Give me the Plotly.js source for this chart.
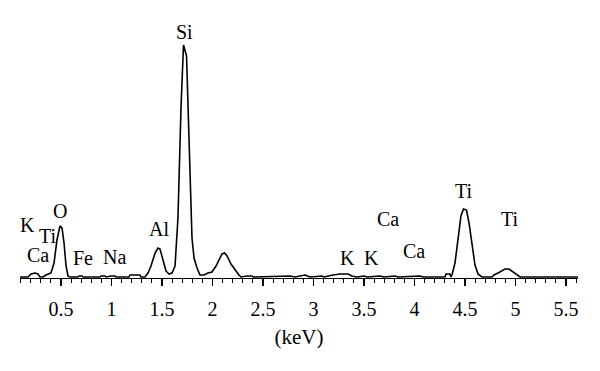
<!DOCTYPE html>
<html><head><meta charset="utf-8">
<script src="https://cdn.plot.ly/plotly-3.0.1.min.js"></script>
<style>html,body{margin:0;padding:0;background:#fff}#chart{width:600px;height:371px}</style>
</head><body><div id="chart"></div>
<script>
// Energy (keV) and counts (arbitrary units)
const energy = [0.094,0.173,0.203,0.243,0.272,0.292,0.322,0.351,0.401,0.431,0.460,0.490,0.510,0.530,0.550,0.569,0.589,
  0.668,0.678,0.708,0.718,0.886,0.896,0.936,0.946,0.995,1.035,1.045,1.173,1.183,1.282,1.292,
  1.332,1.361,1.391,1.431,1.460,1.480,1.510,1.540,1.569,1.599,1.629,1.658,1.688,1.713,1.743,1.767,1.797,1.817,1.847,1.876,
  1.916,1.955,1.995,2.035,2.064,2.094,2.119,2.144,2.183,2.223,2.262,2.282,
  2.342,2.391,2.401,2.767,2.817,2.916,2.965,3.084,3.104,3.193,3.262,3.342,3.381,3.431,3.500,3.530,3.658,3.698,3.807,3.837,4.055,4.085,
  4.302,4.312,4.351,4.361,4.371,4.401,4.430,4.460,4.485,4.515,4.540,4.569,4.599,4.629,4.668,
  4.767,4.787,4.827,4.866,4.896,4.936,4.966,5.005,5.045,5.619];
const counts = [1,1,4,5,4,1,1,3,5,15,38,52,50,35,12,2,1,
  1,2,2,1,1,2,2,1,2,2,1,1,3,3,1,
  1,5,12,25,30,29,18,7,4,5,12,60,170,233,222,130,40,20,10,3,
  3,5,6,12,18,24,25,22,14,8,3,1,
  2,2,1,2,1,3,1,2,1,3,4,4,2,1,2,1,2,1,2,1,2,1,
  1,4,4,1,3,15,40,62,69,68,55,33,13,4,1,
  1,3,5,7,9,9,7,4,1,1];

const labelText = ["Si","O","K","Ti","Ca","Fe","Na","Al","K","K","Ca","Ca","Ti","Ti"];
const labelKeV  = [1.718,0.490,0.173,0.371,0.272,0.718,1.025,1.470,3.332,3.579,3.738,3.995,4.490,4.946];
const labelCnt  = [246,67,53,42,23,20,21,49,20,20,59,27,87,59];

const tickVals = [0.5,1,1.5,2,2.5,3,3.5,4,4.5,5,5.5];
const tickText = ["0.5","1","1.5","2","2.5","3","3.5","4","4.5","5","5.5"];

const font = "Liberation Serif, Times New Roman, serif";
const annotations = labelText.map((t,i)=>({
  x: labelKeV[i], y: labelCnt[i], xref:'x', yref:'y', text:t, showarrow:false,
  font:{family:font,size:20,color:'#000'}
}));

Plotly.newPlot('chart',[{
  x: energy, y: counts, type:'scatter', mode:'lines',
  line:{color:'#000',width:1.6}, hoverinfo:'skip'
}],{
  width:600,height:371,
  margin:{l:20,r:22,t:28,b:93},
  paper_bgcolor:'#fff',plot_bgcolor:'#fff',
  showlegend:false,
  font:{family:font,size:20,color:'#000'},
  xaxis:{range:[0.094,5.619],showgrid:false,zeroline:false,showline:true,linecolor:'#000',linewidth:1.2,
    ticks:'outside',ticklen:7,tickwidth:1.2,tickcolor:'#000',
    tickmode:'array',tickvals:tickVals,ticktext:tickText,ticklabelstandoff:6,
    minor:{dtick:0.1,tick0:0,ticks:'outside',ticklen:4,tickwidth:1,tickcolor:'#000',showgrid:false},
    tickfont:{family:font,size:20,color:'#000'},
    title:{text:'(keV)',font:{family:font,size:21,color:'#000'},standoff:10}},
  yaxis:{range:[0,250],visible:false,showgrid:false,zeroline:false},
  annotations: annotations
},{staticPlot:true,displayModeBar:false});
</script></body></html>
